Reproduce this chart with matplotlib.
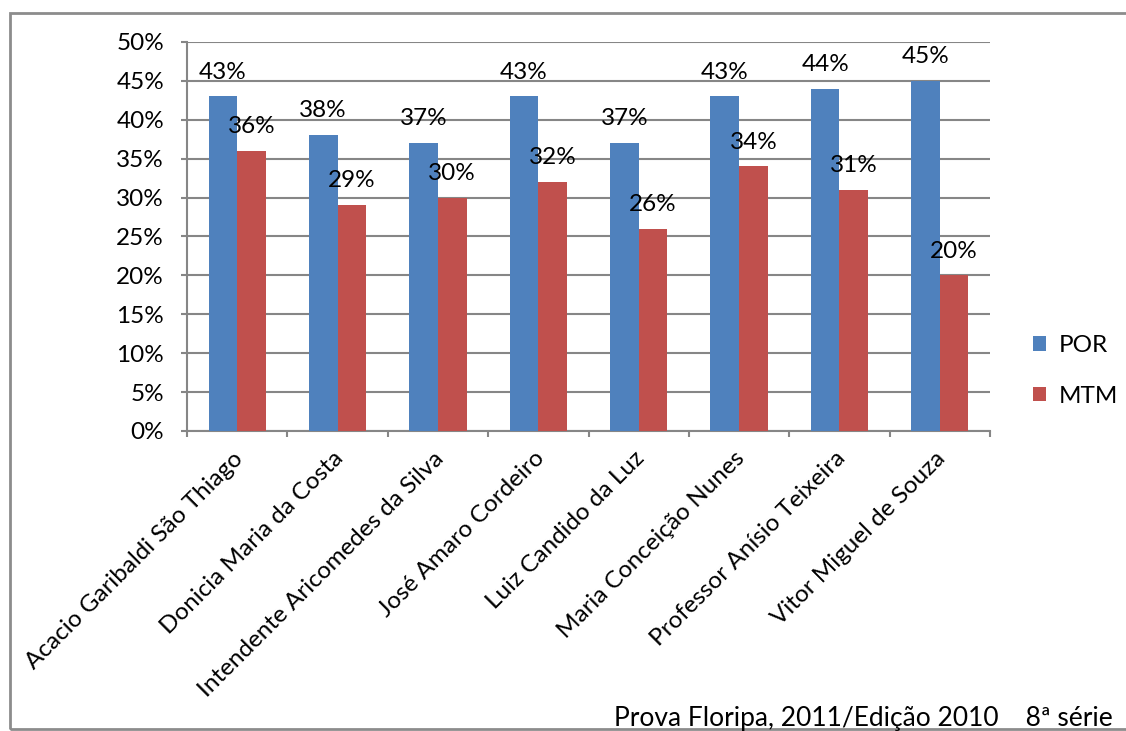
import numpy as np
import matplotlib.pyplot as plt
from matplotlib.patches import Rectangle
from matplotlib.transforms import ScaledTranslation

plt.rcParams['font.family'] = ['Lato', 'DejaVu Sans']

escolas = [
    "Acacio Garibaldi São Thiago",
    "Donicia Maria da Costa",
    "Intendente Aricomedes da Silva",
    "José Amaro Cordeiro",
    "Luiz Candido da Luz",
    "Maria Conceição Nunes",
    "Professor Anísio Teixeira",
    "Vitor Miguel de Souza",
]
por = [43, 38, 37, 43, 37, 43, 44, 45]
mtm = [36, 29, 30, 32, 26, 34, 31, 20]

azul = "#4F81BD"
vermelho = "#C0504D"
cinza = "#868686"
fs = 17.5

fig = plt.figure(figsize=(11.26, 7.31), dpi=100)
ax = fig.add_axes([187/1126, 1 - 431/731, (990 - 187)/1126, (431 - 42)/731])

x = np.arange(len(escolas))
w = 1 / 3.5
b1 = ax.bar(x - w/2, por, w, color=azul, label="POR", zorder=3)
b2 = ax.bar(x + w/2, mtm, w, color=vermelho, label="MTM", zorder=3)
ax.bar_label(b1, labels=[f"{v}%" for v in por], padding=10, fontsize=fs)
ax.bar_label(b2, labels=[f"{v}%" for v in mtm], padding=10, fontsize=fs)

ax.set_xlim(-0.5, len(escolas) - 0.5)
ax.set_ylim(0, 50)
ax.set_yticks(np.arange(0, 51, 5))
ax.set_yticklabels([f"{v}%" for v in range(0, 51, 5)], fontsize=fs)
ax.grid(axis="y", color=cinza, linewidth=1.5, zorder=0)

# rótulos das categorias no centro, marcas nos limites
ax.set_xticks(x)
ax.set_xticklabels(escolas, rotation=45, ha="right", va="top",
                   rotation_mode="anchor", fontsize=fs)
ax.tick_params(axis="x", length=0, pad=12)
ax.set_xticks(np.arange(-0.5, len(escolas), 1), minor=True)
ax.tick_params(axis="x", which="minor", length=4.5, width=1.5, color=cinza,
               direction="out")
ax.tick_params(axis="y", length=4.5, width=1.5, color=cinza, pad=12)
desloc = ScaledTranslation(-5/100, 0, fig.dpi_scale_trans)
for lbl in ax.get_xticklabels():
    lbl.set_transform(lbl.get_transform() + desloc)

for s in ["top", "right"]:
    ax.spines[s].set_visible(False)
for s in ["left", "bottom"]:
    ax.spines[s].set_color(cinza)
    ax.spines[s].set_linewidth(1.5)

leg = fig.legend(handles=[b1, b2], loc="center left",
                 bbox_to_anchor=(1033/1126, 1 - 371/731), frameon=False,
                 fontsize=fs, handlelength=0.55, handleheight=0.55,
                 labelspacing=1.2, handletextpad=0.5,
                 borderpad=0, borderaxespad=0)

fig.patches.append(Rectangle((10/1126, 1 - 729/731), 1.2, (729 - 13)/731,
                             transform=fig.transFigure, fill=False,
                             edgecolor="#8C8C8C", linewidth=2, zorder=-1))

fig.text(614/1126, 1 - 726/731, "Prova Floripa, 2011/Edição 2010    8ª série",
         fontsize=19, ha="left", va="baseline")

fig.savefig("out.png", dpi=100)
